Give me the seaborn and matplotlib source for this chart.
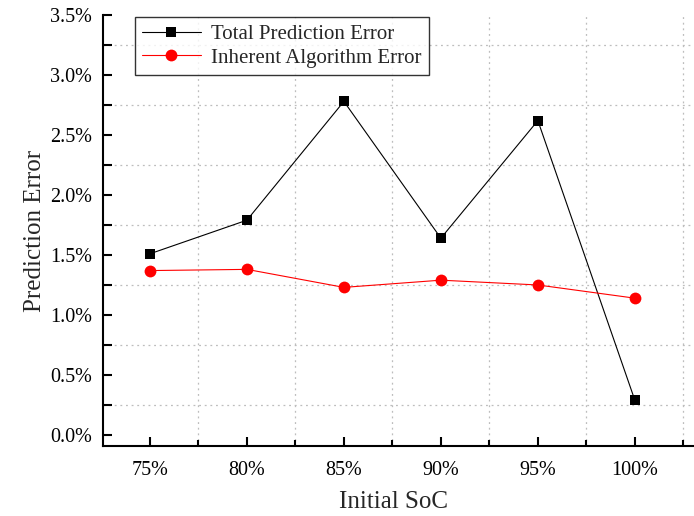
import numpy as np
import pandas as pd
import seaborn as sns
import matplotlib.pyplot as plt
from matplotlib.ticker import MultipleLocator, FuncFormatter

sns.set_style('ticks')
plt.rcParams['font.family'] = ['Liberation Serif', 'DejaVu Serif']

# data
soc = [75, 80, 85, 90, 95, 100]
total_err = [1.51, 1.79, 2.78, 1.64, 2.62, 0.29]
inherent_err = [1.37, 1.38, 1.23, 1.29, 1.25, 1.14]

df = pd.DataFrame({'soc': soc, 'total': total_err, 'inherent': inherent_err})

fig = plt.figure(figsize=(6.94, 5.16), dpi=100)
ax = fig.add_axes([103/694, 1-446/516, 1-103/694, (446-15)/516])

sns.lineplot(data=df, x='soc', y='total', ax=ax, color='black', lw=0.8,
             marker='s', markersize=7, markeredgewidth=0,
             label='Total Prediction Error')
sns.lineplot(data=df, x='soc', y='inherent', ax=ax, color='red', lw=0.8,
             marker='o', markersize=8.5, markeredgewidth=0,
             label='Inherent Algorithm Error')

ax.set_xlim(72.58, 103.05)
ax.set_ylim(-0.092, 3.5)
ax.xaxis.set_major_locator(MultipleLocator(5))
ax.xaxis.set_minor_locator(MultipleLocator(2.5))
ax.yaxis.set_major_locator(MultipleLocator(0.5))
ax.yaxis.set_minor_locator(MultipleLocator(0.25))
ax.xaxis.set_major_formatter(FuncFormatter(lambda v, p: '%d%%' % v))
ax.yaxis.set_major_formatter(FuncFormatter(lambda v, p: '%.1f%%' % v))

# dotted grid sits on the minor positions only
ax.grid(False)
ax.grid(which='minor', ls=(0, (1.5, 3)), color='#bdbdbd', lw=0.9)

for s in ['top', 'right']:
    ax.spines[s].set_visible(False)
for s in ['left', 'bottom']:
    ax.spines[s].set_linewidth(1.5)
    ax.spines[s].set_color('black')

ax.tick_params(which='both', direction='in', width=1.5, colors='black', labelsize=14.5, pad=8)
ax.tick_params(axis='x', which='both', pad=10.5)
ax.tick_params(axis='y', which='both', length=6.5)
ax.tick_params(axis='x', which='major', length=6.5)
ax.tick_params(axis='x', which='minor', length=4)

ax.set_xlabel('Initial SoC', fontsize=18, labelpad=11)
ax.xaxis.set_label_coords((393.5-103)/591, -0.105)
ax.set_ylabel('Prediction Error', fontsize=18, labelpad=3)

leg = ax.legend(loc='upper left', bbox_to_anchor=(0.054, 0.995), borderaxespad=0,
                fontsize=15, frameon=True, fancybox=False, edgecolor='black',
                handlelength=2.8, handletextpad=0.5, borderpad=0.35, labelspacing=0.2)
leg.get_frame().set_linewidth(1.0)

fig.savefig('out.png', dpi=100)
